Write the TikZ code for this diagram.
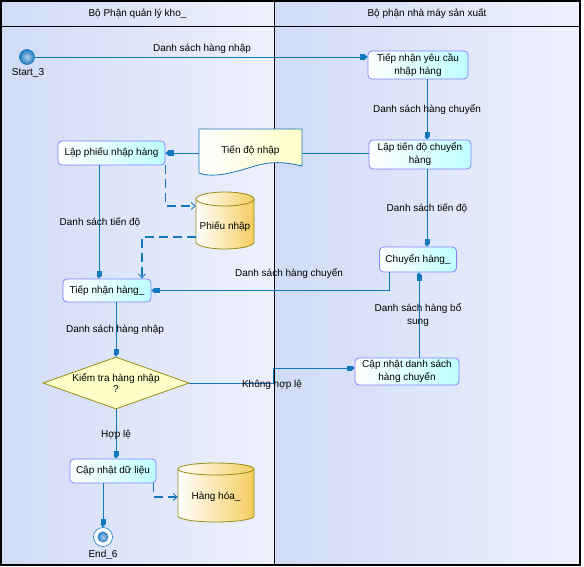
\documentclass[tikz,border=0pt]{standalone}
\usepackage{fontspec}
\setmainfont{Liberation Sans}
\usetikzlibrary{shapes.geometric, arrows.meta, calc}

\definecolor{flowblue}{RGB}{20,120,190}
\definecolor{actedge}{RGB}{130,130,250}
\definecolor{actfill}{RGB}{190,255,255}
\definecolor{storeedge}{RGB}{150,140,20}
\definecolor{storefill}{RGB}{245,205,95}
\definecolor{decfill}{RGB}{255,255,200}
\definecolor{lanedark}{RGB}{208,219,246}
\definecolor{lanelight}{RGB}{238,241,252}
\definecolor{ballin}{RGB}{175,205,228}
\definecolor{ballout}{RGB}{30,125,195}

\tikzstyle{act} = [rectangle, rounded corners=4pt, draw=actedge, line width=0.8pt, left color=white, right color=actfill, align=center, inner sep=1pt, font=\fontsize{10}{13}\selectfont]
\tikzstyle{dec} = [diamond, aspect=2.8, draw=storeedge, line width=0.8pt, fill=decfill, align=center, inner sep=-2pt, minimum width=146pt, minimum height=52pt, font=\fontsize{10}{11}\selectfont]
\tikzstyle{store} = [rectangle, inner sep=0pt, font=\fontsize{10}{12}\selectfont]
\tikzstyle{storeshape} = [draw=storeedge, line width=0.8pt, left color=white, right color=storefill]
\tikzstyle{docshape} = [draw=flowblue, line width=0.8pt, left color=white, right color=decfill]
\tikzstyle{lbl} = [inner sep=0pt, align=center, font=\fontsize{10}{13}\selectfont]
\tikzstyle{ball} = [circle, inner color=ballin, outer color=ballout, inner sep=0pt]
\tikzstyle{flow} = [draw=flowblue, line width=0.9pt, -{Rectangle[length=5pt,width=5pt]Triangle[length=3pt,width=5pt]}]
\tikzstyle{oflow} = [draw=flowblue, line width=1.4pt, dash pattern=on 9pt off 5pt, -{Straight Barb[length=4pt,width=7pt,line width=0.9pt]}]

\begin{document}
\begin{tikzpicture}[x=1pt, y=-1pt]
\useasboundingbox (0,0) rectangle (584,567);
% swimlanes
\fill[left color=lanedark, right color=lanelight] (1,1) rectangle (274,565);
\fill[left color=lanedark, right color=lanelight] (274,1) rectangle (580,565);
\draw[line width=0.8pt] (1,26) -- (580,26);
\draw[line width=0.8pt] (274,1) -- (274,565);
\draw[line width=1.5pt] (1,1) rectangle (580,565);
\node (hkho) [lbl] at (137.5,14) {Bộ Phận quản lý kho\_};
\node (hnm) [lbl] at (427,14) {Bộ phận nhà máy sản xuất};

% activities
\node (start) [ball, draw=flowblue, line width=0.6pt, minimum size=15pt] at (27,57) {};
\node (startlbl) [lbl] at (28,73) {Start\_3};
\node (tnyc) [act, minimum width=100pt, minimum height=28pt] at (418,65) {Tiếp nhận yêu cầu\\nhập hàng};
\node (ltd) [act, minimum width=102pt, minimum height=29pt] at (420,154.5) {Lập tiến độ chuyển\\hàng};
\node (chuyen) [act, minimum width=77pt, minimum height=25pt] at (418,259.5) {Chuyển hàng\_};
\node (cndsc) [act, minimum width=104pt, minimum height=27pt] at (407,371.5) {Cập nhật danh sách\\hàng chuyển};
\node (lpn) [act, minimum width=107pt, minimum height=24pt] at (111.5,153) {Lập phiếu nhập hàng};
\node (tnh) [act, minimum width=88pt, minimum height=23pt] at (107,290.5) {Tiếp nhận hàng\_};
\node (kt) [dec] at (116,383) {Kiểm tra hàng nhập\\?};
\node (cndl) [act, minimum width=86pt, minimum height=24pt] at (113,471) {Cập nhật dữ liệu};
\node (endn) [circle, draw=flowblue, line width=0.6pt, fill=white, minimum size=19pt, inner sep=0pt] at (103,537) {};
\node (endball) [ball, minimum size=11pt] at (endn) {};
\node (endlbl) [lbl] at (103,555) {End\_6};

% objects
\node (tdn) [rectangle, minimum width=103pt, minimum height=44pt, inner sep=0pt] at (250.5,151) {};
\draw[docshape, shift={(tdn.center)}] (-51.5,-22) -- (51.5,-22) -- (51.5,15) .. controls (34.5,11) and (21.5,10) .. (4.5,15) .. controls (-12.5,20) and (-35.5,28) .. (-51.5,22) -- cycle;
\node (tdntxt) [lbl] at (tdn.center) {Tiến độ nhập};

\node (pn) [store, minimum width=58pt] at (225,227) {};
\draw[storeshape, shift={(pn.center)}] (-29,15) arc[start angle=180, end angle=0, x radius=29, y radius=7] -- (29,-28) arc[start angle=0, end angle=-180, x radius=29, y radius=7] -- cycle;
\draw[draw=storeedge, line width=0.8pt, shift={(pn.center)}] (-29,-28) arc[start angle=180, end angle=0, x radius=29, y radius=7];
\node (pntxt) [lbl] at (pn.center) {Phiếu nhập};

\node (hh) [store, minimum width=76pt] at (216,497) {};
\draw[storeshape, shift={(hh.center)}] (-38,19) arc[start angle=180, end angle=0, x radius=38, y radius=6] -- (38,-28) arc[start angle=0, end angle=-180, x radius=38, y radius=6] -- cycle;
\draw[draw=storeedge, line width=0.8pt, shift={(hh.center)}] (-38,-28) arc[start angle=180, end angle=0, x radius=38, y radius=6];
\node (hhtxt) [lbl] at (hh.center) {Hàng hóa\_};

% connectors
\coordinate (xa) at (427,0);
\coordinate (xb) at (419,0);
\coordinate (xc) at (389,0);
\coordinate (xd) at (99,0);
\coordinate (xe) at (142,0);
\coordinate (kink) at (273,368);

\draw[flow] (start.east) -- (start -| tnyc.west);
\draw[flow] (xa |- tnyc.south) -- (xa |- ltd.north);
\draw[flow] (xa |- ltd.south) -- (xa |- chuyen.north);
\draw[flow] (xb |- cndsc.north) -- (xb |- chuyen.south);
\draw[flow] (xc |- chuyen.south) |- (tnh.east);
\draw[flow, -] (ltd.west |- lpn.east) -- (tdn.east |- lpn.east);
\draw[flow] (tdn.west |- lpn.east) -- (lpn.east);
\draw[flow] (xd |- lpn.south) -- (xd |- tnh.north);
\draw[oflow] (lpn.south east) |- ($(pn.west)+(0,-21)$);
\draw[oflow] ($(pn.west)+(0,10)$) -| (xe |- tnh.north);
\draw[flow] (kt.north |- tnh.south) -- (kt.north);
\draw[flow] (kt.east) -| (kink) -- (kink -| cndsc.west);
\draw[flow] (kt.south) -- (kt.south |- cndl.north);
\draw[oflow] ($(cndl.south east)+(-3,0)$) |- (hh.west);
\draw[flow] (endn |- cndl.south) -- (endn.north);

% labels
\node (l1) [lbl] at (202,49) {Danh sách hàng nhập};
\node (l2) [lbl] at (427,110) {Danh sách hàng chuyển};
\node (l3) [lbl] at (100,222) {Danh sách tiến độ};
\node (l4) [lbl] at (427,208) {Danh sách tiến độ};
\node (l5) [lbl] at (289,274) {Danh sách hàng chuyển};
\node (l6) [lbl] at (418,315) {Danh sách hàng bổ\\sung};
\node (l7) [lbl] at (115,330) {Danh sách hàng nhập};
\node (l8) [lbl] at (272,385) {Không hợp lệ};
\node (l9) [lbl] at (116,435) {Hợp lệ};
\end{tikzpicture}
\end{document}
